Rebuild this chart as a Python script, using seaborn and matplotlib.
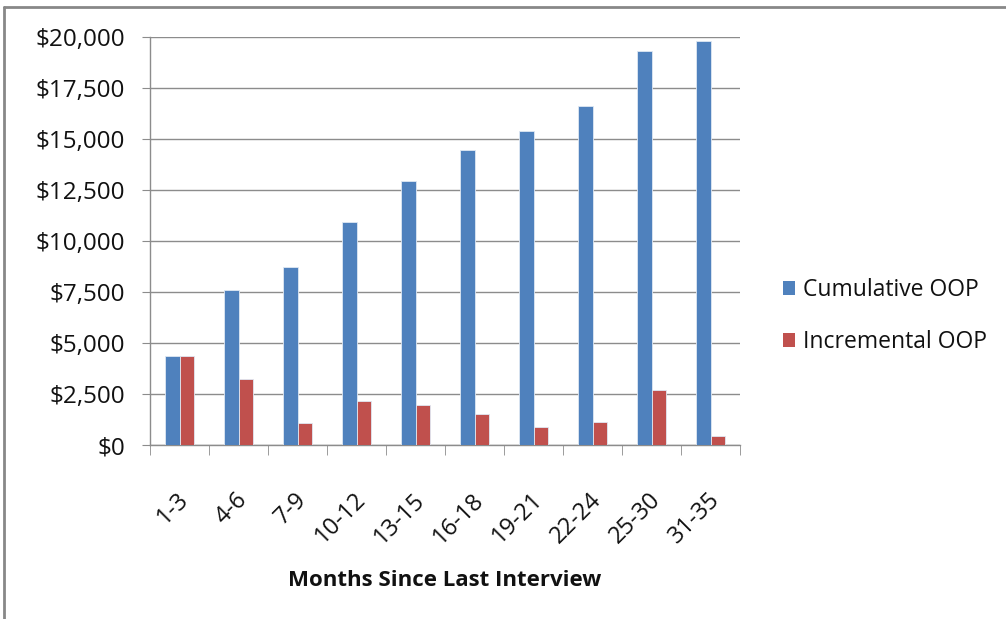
import matplotlib

matplotlib.use("Agg")
import matplotlib.pyplot as plt
import matplotlib.transforms as mtransforms
import numpy as np
import pandas as pd
import seaborn as sns
from matplotlib.lines import Line2D
from matplotlib.patches import Patch
from matplotlib.ticker import FuncFormatter

# data
months = ["1-3", "4-6", "7-9", "10-12", "13-15", "16-18", "19-21", "22-24", "25-30", "31-35"]
cumulative_oop = [4350, 7610, 8740, 10950, 12960, 14480, 15410, 16620, 19310, 19820]
incremental_oop = [4350, 3220, 1080, 2160, 1960, 1520, 900, 1140, 2710, 460]
series_names = ["Cumulative OOP", "Incremental OOP"]
colors = ["#4F81BD", "#C0504D"]

df = pd.DataFrame(
    {
        "Months": months * 2,
        "Value": cumulative_oop + incremental_oop,
        "Series": [series_names[0]] * len(months) + [series_names[1]] * len(months),
    }
)

sns.set_style("white")
plt.rcParams["font.family"] = ["Open Sans", "DejaVu Sans"]

W, H = 1006, 619
fig = plt.figure(figsize=(W / 100, H / 100), dpi=100)
ax = fig.add_axes([150 / W, 1 - 445 / H, 590 / W, 408 / H])

sns.barplot(
    data=df,
    x="Months",
    y="Value",
    hue="Series",
    palette=colors,
    saturation=1,
    width=0.48,
    edgecolor="#dfe8f3",
    linewidth=0.6,
    legend=False,
    ax=ax,
    zorder=3,
)

grid_c = "#8c8c8c"
ax.set_ylim(0, 20000)
ax.set_xlim(-0.5, len(months) - 0.5)
ax.set_yticks(np.arange(0, 20001, 2500))
ax.yaxis.set_major_formatter(FuncFormatter(lambda v, p: f"${v:,.0f}"))
ax.yaxis.grid(True, color=grid_c, linewidth=1)
ax.set_axisbelow(True)

for s in ["top", "right"]:
    ax.spines[s].set_visible(False)
for s in ["left", "bottom"]:
    ax.spines[s].set_color(grid_c)
    ax.spines[s].set_linewidth(1)

ax.tick_params(axis="y", length=6, color=grid_c, labelsize=17.5, pad=12, left=True, labelcolor="#111111")
ax.set_xticks(np.arange(-0.5, len(months)), minor=True)
ax.tick_params(axis="x", which="minor", length=7, color=grid_c, bottom=True)
ax.tick_params(axis="x", which="major", length=0, labelsize=17, pad=31, labelcolor="#111111")
shift = mtransforms.ScaledTranslation(-3 / 100, 0, fig.dpi_scale_trans)
for lbl in ax.get_xticklabels():
    lbl.set_rotation(45)
    lbl.set_ha("right")
    lbl.set_rotation_mode("anchor")
    lbl.set_transform(lbl.get_transform() + shift)

ax.set_ylabel("")
ax.set_xlabel("Months Since Last Interview", fontsize=16, fontweight="bold", labelpad=15, color="#111111")

handles = [Patch(facecolor=c, edgecolor="none") for c in colors]
fig.legend(
    handles,
    series_names,
    loc="center left",
    bbox_to_anchor=(762 / W, 1 - 316 / H),
    frameon=False,
    fontsize=16.5,
    handlelength=0.55,
    handleheight=0.55,
    handletextpad=0.35,
    labelspacing=1.2,
    labelcolor="#111111",
)

# outer frame lines (top and left) like the screenshot
fig.add_artist(Line2D([4 / W, 1], [1 - 7 / H, 1 - 7 / H], color="#888888", linewidth=2, transform=fig.transFigure))
fig.add_artist(Line2D([4 / W, 4 / W], [0, 1 - 7 / H], color="#888888", linewidth=2, transform=fig.transFigure))

fig.savefig("out.png", dpi=100)
